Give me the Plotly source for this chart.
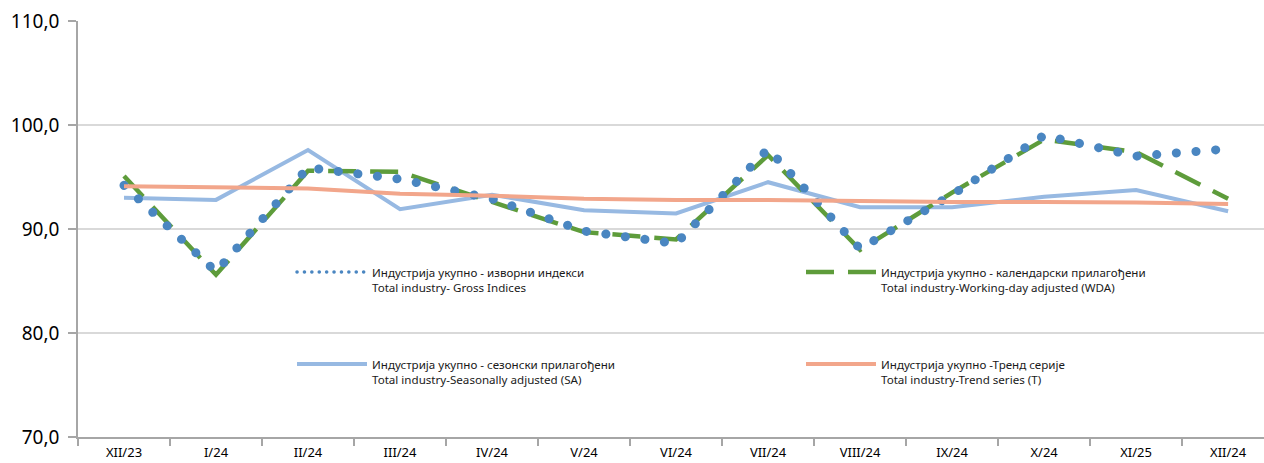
import plotly.graph_objects as go

categories = ["XII/23", "I/24", "II/24", "III/24", "IV/24", "V/24", "VI/24",
              "VII/24", "VIII/24", "IX/24", "X/24", "XI/25", "XII/24"]
gross = [94.2, 85.9, 95.9, 94.8, 92.9, 89.8, 88.6, 97.7, 88.1, 93.3, 99.0, 97.0, 97.7]
wda = [95.1, 85.6, 95.6, 95.5, 92.6, 89.7, 89.0, 97.1, 88.0, 93.5, 98.6, 97.4, 92.9]
sa = [93.0, 92.8, 97.6, 91.9, 93.3, 91.8, 91.5, 94.5, 92.1, 92.1, 93.1, 93.75, 91.7]
trend = [94.1, 94.0, 93.9, 93.4, 93.2, 92.9, 92.8, 92.8, 92.7, 92.6, 92.6, 92.55, 92.4]

names = {
    "gross": "Индустрија укупно - изворни индекси<br>Total industry- Gross Indices",
    "wda": "Индустрија укупно - календарски прилагођени<br>Total industry-Working-day adjusted (WDA)",
    "sa": "Индустрија укупно - сезонски прилагођени<br>Total industry-Seasonally adjusted (SA)",
    "trend": "Индустрија укупно -Тренд серије<br>Total industry-Trend series (T)",
}

C_GROSS = "#4A86C1"
C_WDA = "#5E9C3B"
C_SA = "#97B9E2"
C_TREND = "#F2A68B"
FONT = "Noto Sans"

fig = go.Figure()
fig.add_trace(go.Scatter(x=categories, y=sa, mode="lines", name=names["sa"],
                         line=dict(color=C_SA, width=4), legend="legend3"))
fig.add_trace(go.Scatter(x=categories, y=wda, mode="lines", name=names["wda"],
                         line=dict(color=C_WDA, width=4.5, dash="28px,14px"), legend="legend2"))
fig.add_trace(go.Scatter(x=categories, y=gross, mode="lines", name=names["gross"], uid="gross",
                         line=dict(color=C_GROSS, width=9, dash="0.1px,19.6px"), legend="legend"))
fig.add_trace(go.Scatter(x=categories, y=trend, mode="lines", name=names["trend"],
                         line=dict(color=C_TREND, width=4), legend="legend4"))

W, H = 1264, 463
ml, mr, mt, mb = 78, 0, 21, 26
pw, ph = W - ml - mr, H - mt - mb


def px(x):
    return (x - ml) / pw


def py(y):
    return (H - mb - y) / ph


leg_common = dict(xanchor="left", yanchor="top", bgcolor="rgba(0,0,0,0)",
                  font=dict(family=FONT, size=11.6, color="#1a1a1a"),
                  itemwidth=70, valign="top", borderwidth=0, itemclick=False)

fig.update_layout(
    width=W, height=H,
    margin=dict(l=ml, r=mr, t=mt, b=mb, autoexpand=False),
    paper_bgcolor="white", plot_bgcolor="white",
    separators=",.",
    font=dict(family=FONT, color="#000000"),
    showlegend=True,
    legend=dict(x=px(292), y=py(258), **leg_common),
    legend2=dict(x=px(801), y=py(258), **leg_common),
    legend3=dict(x=px(292), y=py(350), **leg_common),
    legend4=dict(x=px(801), y=py(350), **leg_common),
    xaxis=dict(type="category", range=[-0.5, 12.39], tickson="boundaries",
               ticks="outside", ticklen=7, tickcolor="#A6A6A6", tickwidth=1.5,
               showline=True, linecolor="#A6A6A6", linewidth=1.5, showgrid=False,
               tickfont=dict(family=FONT, size=13, color="#000000"),
               ticklabelstandoff=3, automargin=False),
    yaxis=dict(range=[70, 110], dtick=10, tick0=70, tickformat=".1f",
               ticks="outside", ticklen=8, tickcolor="#A6A6A6", tickwidth=1.5,
               showline=True, linecolor="#A6A6A6", linewidth=1.5,
               showgrid=True, gridcolor="#D9D9D9", gridwidth=1.5, zeroline=False,
               tickfont=dict(family=FONT, size=19, color="#000000"),
               ticklabelstandoff=5, automargin=False),
)

post = """
var s = document.createElement('style');
s.textContent = 'html,body{margin:0;padding:0;}' +
  '.tracegross path.js-line{stroke-linecap:round;}' +
  'g.legend path.js-line{stroke-linecap:round;stroke-width:3.5px !important;stroke-dasharray:0.1px,7.3px !important;}';
document.head.appendChild(s);
"""

fig.write_html("out.html", post_script=post, config={"displayModeBar": False})
